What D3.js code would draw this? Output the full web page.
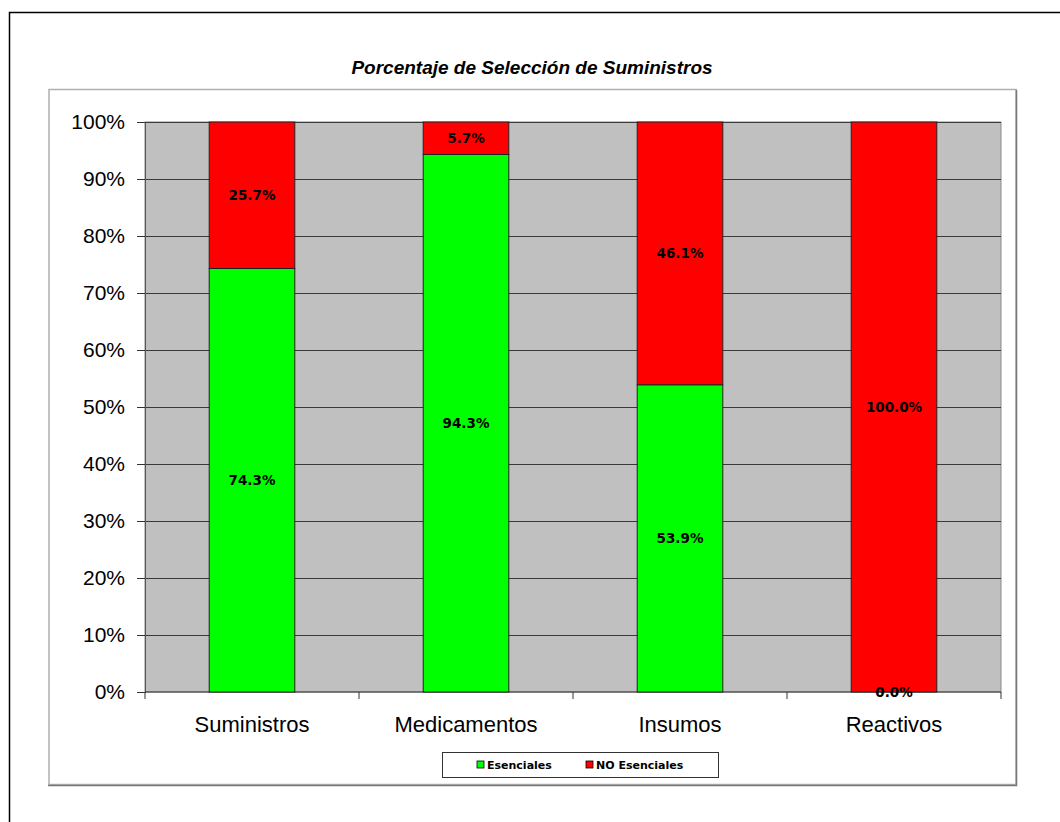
<!DOCTYPE html>
<meta charset="utf-8">
<head>
    <title>Porcentaje de Selección de Suministros</title>
    <script src="https://d3js.org/d3.v7.min.js"></script>
</head>

<style>
body { margin: 0; background: #fff; }
</style>

<body>

<svg></svg>

<script>

let categories = ["Suministros", "Medicamentos", "Insumos", "Reactivos"];
let esenciales = [74.3, 94.3, 53.9, 0.0];
let noEsenciales = [25.7, 5.7, 46.1, 100.0];
let yTicks = [0, 10, 20, 30, 40, 50, 60, 70, 80, 90, 100];
let seriesNames = ["Esenciales", "NO Esenciales"];
let seriesColors = ["#00ff00", "#ff0000"];

let svg = d3.select("svg")
    .attr("width", 1060)
    .attr("height", 822);

// outer page frame
svg.append("path")
  .attr("d", "M9.5,830 V12.5 H1070")
  .attr("fill", "none")
  .attr("stroke", "#000")
  .attr("stroke-width", 1.5);

// chart frame with shadow
svg.append("rect")
  .attr("x", 49).attr("y", 89.5)
  .attr("width", 967).attr("height", 695)
  .attr("fill", "#fff")
  .attr("stroke", "#b0b0b0")
  .attr("stroke-width", 1.5);
svg.append("path")
  .attr("d", "M1016.5,90 V785.5 H48")
  .attr("fill", "none")
  .attr("stroke", "#777")
  .attr("stroke-width", 1.5);

// title
svg.append("text")
  .attr("x", 532)
  .attr("y", 74)
  .attr("text-anchor", "middle")
  .style("font-family", "Liberation Sans, Arial, sans-serif")
  .style("font-weight", "bold")
  .style("font-style", "italic")
  .style("font-size", "19px")
  .text("Porcentaje de Selección de Suministros");

let margin = {top: 122, left: 145};
let width = 856;
let height = 570;

let g = svg.append("g")
  .attr("transform", "translate(" + margin.left + "," + margin.top + ")");

let x = d3.scaleBand()
  .domain(categories)
  .range([0, width])
  .paddingInner(0.6)
  .paddingOuter(0.3);

let y = d3.scaleLinear()
  .domain([0, 100])
  .range([height, 0]);

// plot background
g.append("rect")
  .attr("width", width)
  .attr("height", height)
  .attr("fill", "#c0c0c0")
  .attr("stroke", "#8a8a8a")
  .attr("stroke-width", 1);

// gridlines
g.selectAll(".grid")
  .data(yTicks.filter(d => d > 0))
  .enter()
  .append("line")
  .attr("x1", 0).attr("x2", width)
  .attr("y1", d => Math.round(y(d)) + 0.5)
  .attr("y2", d => Math.round(y(d)) + 0.5)
  .attr("stroke", "#3a3a3a")
  .attr("stroke-width", 1.2);

// y axis
let yAxis = g.append("g")
  .call(d3.axisLeft(y).tickValues(yTicks).tickFormat(d => d + "%").tickSize(8).tickPadding(12));
yAxis.select(".domain").attr("stroke", "#555");
yAxis.selectAll("text")
  .style("font-family", "Liberation Sans, Arial, sans-serif")
  .style("font-size", "21px")
  .attr("fill", "#000");
yAxis.selectAll("line").attr("stroke", "#333");

// x axis
let xAxis = g.append("g")
  .attr("transform", "translate(0," + height + ")");
xAxis.append("line")
  .attr("x1", 0).attr("x2", width)
  .attr("stroke", "#333").attr("stroke-width", 1.2);
xAxis.selectAll(".tick")
  .data(d3.range(categories.length + 1))
  .enter()
  .append("line")
  .attr("x1", d => d * width / categories.length)
  .attr("x2", d => d * width / categories.length)
  .attr("y1", 0).attr("y2", 7)
  .attr("stroke", "#333");
xAxis.selectAll(".cat")
  .data(categories)
  .enter()
  .append("text")
  .attr("x", d => x(d) + x.bandwidth() / 2)
  .attr("y", 40)
  .attr("text-anchor", "middle")
  .style("font-family", "Liberation Sans, Arial, sans-serif")
  .style("font-size", "22px")
  .text(d => d);

// stacked bars
let rows = categories.map((c, i) => ({cat: c, Esenciales: esenciales[i], "NO Esenciales": noEsenciales[i]}));
let stack = d3.stack().keys(seriesNames)(rows);

let layers = g.selectAll(".layer")
  .data(stack)
  .enter()
  .append("g")
  .attr("fill", (d, i) => seriesColors[i]);

layers.selectAll("rect")
  .data(d => d)
  .enter()
  .append("rect")
  .attr("x", d => x(d.data.cat))
  .attr("y", d => y(d[1]))
  .attr("width", x.bandwidth())
  .attr("height", d => y(d[0]) - y(d[1]))
  .attr("stroke", "#222")
  .attr("stroke-width", 1);

// value labels, drawn above all bars
let labelData = stack.flatMap(s => s.map(v => ({v: v, key: s.key})));
g.append("g").selectAll("text")
  .data(labelData)
  .enter()
  .append("text")
  .attr("x", d => x(d.v.data.cat) + x.bandwidth() / 2)
  .attr("y", d => (y(d.v[0]) + y(d.v[1])) / 2 + 5)
  .attr("text-anchor", "middle")
  .attr("fill", "#000")
  .style("font-family", "DejaVu Sans, Verdana, sans-serif")
  .style("font-weight", "bold")
  .style("font-size", "13.5px")
  .text(d => d.v.data[d.key].toFixed(1) + "%");

// legend
let legend = svg.append("g").attr("transform", "translate(442,752)");
legend.append("rect")
  .attr("x", 0.5).attr("y", 0.5)
  .attr("width", 276).attr("height", 25)
  .attr("fill", "#fff")
  .attr("stroke", "#333");
let items = legend.selectAll(".item")
  .data(seriesNames)
  .enter()
  .append("g")
  .attr("transform", (d, i) => "translate(" + (35 + i * 109) + ",9)");
items.append("rect")
  .attr("width", 7).attr("height", 7)
  .attr("fill", (d, i) => seriesColors[i])
  .attr("stroke", "#000")
  .attr("stroke-width", 0.8);
items.append("text")
  .attr("x", 10).attr("y", 8)
  .style("font-family", "DejaVu Sans, Verdana, sans-serif")
  .style("font-weight", "bold")
  .style("font-size", "11px")
  .text(d => d);

</script>

</body>
